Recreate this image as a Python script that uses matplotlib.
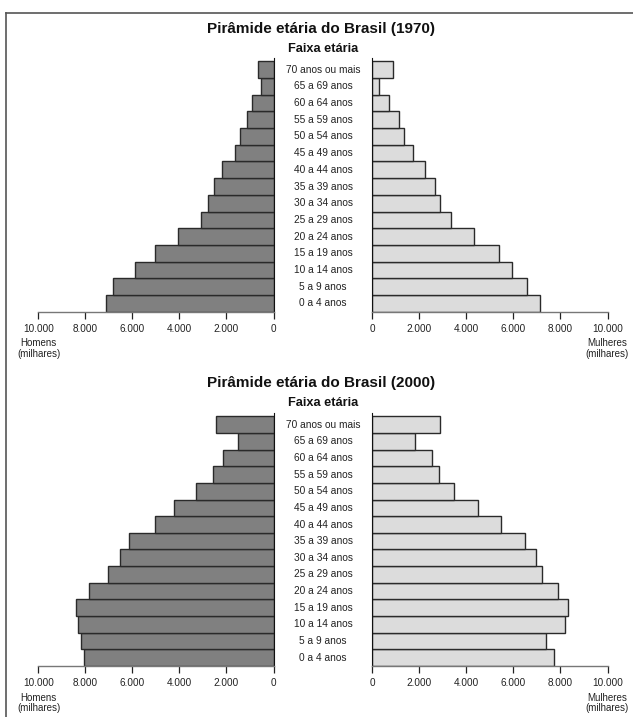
import matplotlib
matplotlib.use('Agg')
import matplotlib.pyplot as plt
from matplotlib import transforms
from matplotlib.lines import Line2D

plt.rcParams['font.family'] = ['Liberation Sans', 'DejaVu Sans']

# faixas etarias, de baixo para cima
faixas = ['0 a 4 anos', '5 a 9 anos', '10 a 14 anos', '15 a 19 anos', '20 a 24 anos',
          '25 a 29 anos', '30 a 34 anos', '35 a 39 anos', '40 a 44 anos', '45 a 49 anos',
          '50 a 54 anos', '55 a 59 anos', '60 a 64 anos', '65 a 69 anos', '70 anos ou mais']

# populacao em milhares
homens_1970 = [7120, 6840, 5870, 5050, 4040, 3090, 2765, 2550, 2200, 1630, 1420, 1135, 920, 525, 640]
mulheres_1970 = [7145, 6590, 5965, 5400, 4330, 3350, 2885, 2685, 2230, 1760, 1350, 1150, 725, 310, 880]
homens_2000 = [8070, 8200, 8310, 8410, 7860, 7035, 6540, 6130, 5035, 4210, 3275, 2580, 2155, 1490, 2455]
mulheres_2000 = [7725, 7400, 8210, 8325, 7910, 7200, 6945, 6505, 5470, 4490, 3480, 2855, 2540, 1805, 2885]

ticks = [0, 2000, 4000, 6000, 8000, 10000]
tick_labels = ['0', '2.000', '4.000', '6.000', '8.000', '10.000']

W, H = 633, 717
fig = plt.figure(figsize=(W / 100, H / 100), dpi=100)


def fy(py):
    return 1 - py / H


def fx(px):
    return px / W


def piramide(ano, homens, mulheres, y_axis, y_top, y_title):
    bottom = fy(y_axis)
    height = (y_axis - y_top) / H
    axl = fig.add_axes([fx(38.3), bottom, fx(273.5) - fx(38.3), height])
    axr = fig.add_axes([fx(372), bottom, fx(607.5) - fx(372), height])
    pos = list(range(len(faixas)))
    axl.barh(pos, homens, height=1.0, color='#808080', edgecolor='#2a2a2a', linewidth=1.0)
    axr.barh(pos, mulheres, height=1.0, color='#dcdcdc', edgecolor='#2a2a2a', linewidth=1.0)
    axl.set_xlim(10000, 0)
    axr.set_xlim(0, 10000)
    for ax in (axl, axr):
        ax.set_ylim(-0.5, 14.7)
        ax.set_yticks([])
        ax.set_xticks(ticks)
        ax.set_xticklabels(tick_labels)
        ax.tick_params(axis='x', direction='out', length=5, width=0.9, pad=3.5,
                       labelsize=7.2, colors='#222222')
        ax.spines['top'].set_visible(False)
        ax.spines['bottom'].set_color('#777777')
        ax.spines['bottom'].set_linewidth(1.0)
        ax.patch.set_alpha(0)
    axl.spines['left'].set_visible(False)
    axl.spines['right'].set_color('#111111')
    axr.spines['right'].set_visible(False)
    axr.spines['left'].set_color('#111111')

    tr = transforms.blended_transform_factory(fig.transFigure, axl.transData)
    for i, f in enumerate(faixas):
        fig.text(fx(323), i, f, transform=tr, ha='center', va='center',
                 fontsize=7.3, color='#222222')

    fig.text(fx(321), fy(y_title), 'Pirâmide etária do Brasil (%d)' % ano,
             ha='center', va='center', fontsize=11, fontweight='bold', color='#111111')
    fig.text(fx(323), fy(y_title + 20), 'Faixa etária', ha='center', va='center',
             fontsize=9.2, fontweight='bold', color='#111111')
    fig.text(fx(38.5), fy(y_axis + 37), 'Homens\n(milhares)', ha='center', va='center',
             fontsize=7, color='#222222', linespacing=1.1)
    fig.text(fx(607), fy(y_axis + 37), 'Mulheres\n(milhares)', ha='center', va='center',
             fontsize=7, color='#222222', linespacing=1.1)


piramide(1970, homens_1970, mulheres_1970, 311.7, 58, 29)
piramide(2000, homens_2000, mulheres_2000, 666, 413, 383)

# moldura
fig.add_artist(Line2D([fx(6), 1], [fy(13), fy(13)], color='#555555', lw=1.2))
fig.add_artist(Line2D([fx(6), fx(6)], [fy(13), 0], color='#555555', lw=1.2))

fig.savefig('out.png', dpi=100)
